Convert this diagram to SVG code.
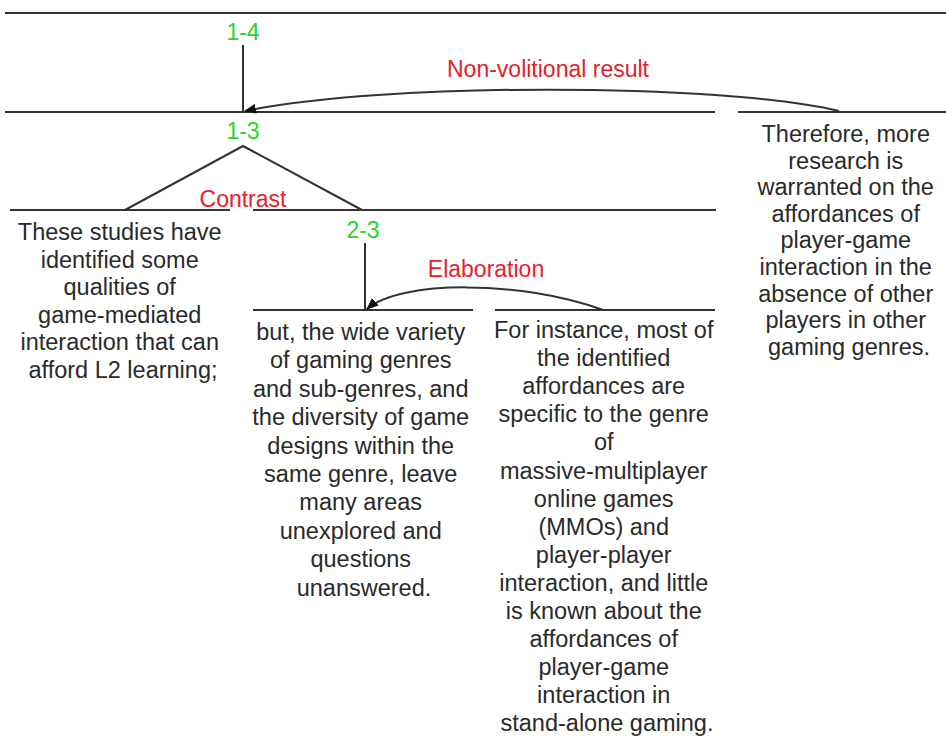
<svg xmlns="http://www.w3.org/2000/svg" width="946" height="742" viewBox="0 0 946 742">
  <defs>
    <style>
      .span { stroke: #333; stroke-width: 2; fill: none; }
      .rel { stroke: #333; stroke-width: 2; fill: none; }
      .lbl { font-family: "Liberation Sans", Arial, sans-serif; font-size: 23px; fill: #2bd42b; text-anchor: middle; }
      .relname { font-family: "Liberation Sans", Arial, sans-serif; font-size: 23px; fill: #e8202a; text-anchor: middle; }
      .edu { font-family: "Liberation Sans", Arial, sans-serif; font-size: 23.5px; fill: #2a2a2a; text-anchor: middle; }
    </style>
    <marker id="arrow" viewBox="0 0 12 10" refX="11" refY="5" markerWidth="12" markerHeight="10" markerUnits="userSpaceOnUse" orient="auto">
      <path d="M0,0 L12,5 L0,10 Z" fill="#111"/>
    </marker>
  </defs>

  <rect width="946" height="742" fill="#fff"/>

  <!-- span 1-4 -->
  <g id="span-1-4">
    <line class="span" x1="5" y1="13" x2="946" y2="13"/>
    <text class="lbl" x="243" y="40">1-4</text>
    <line class="span" x1="243" y1="45" x2="243" y2="112"/>
  </g>

  <!-- span 1-3 -->
  <g id="span-1-3">
    <line class="span" x1="5" y1="112" x2="715" y2="112"/>
    <text class="lbl" x="243" y="139">1-3</text>
  </g>

  <!-- span 2-3 -->
  <g id="span-2-3">
    <line class="span" x1="253" y1="210" x2="716" y2="210"/>
    <text class="lbl" x="363" y="238">2-3</text>
    <line class="span" x1="365" y1="243" x2="365" y2="310"/>
  </g>

  <!-- EDU 1 -->
  <g id="edu-1">
    <line class="span" x1="10" y1="210" x2="230" y2="210"/>
    <text class="edu" x="123">
      <tspan x="123" y="240">These studies have</tspan>
      <tspan x="123" y="267.6">identified some</tspan>
      <tspan x="123" y="295.2">qualities of</tspan>
      <tspan x="123" y="322.8">game-mediated</tspan>
      <tspan x="123" y="350.4">interaction that can</tspan>
      <tspan x="123" y="378">afford L2 learning;</tspan>
    </text>
  </g>

  <!-- EDU 2 -->
  <g id="edu-2">
    <line class="span" x1="253" y1="310" x2="473" y2="310"/>
    <text class="edu" x="364">
      <tspan x="364" y="340">but, the wide variety</tspan>
      <tspan x="364" y="368.4">of gaming genres</tspan>
      <tspan x="364" y="396.8">and sub-genres, and</tspan>
      <tspan x="364" y="425.2">the diversity of game</tspan>
      <tspan x="364" y="453.6">designs within the</tspan>
      <tspan x="364" y="482">same genre, leave</tspan>
      <tspan x="364" y="510.4">many areas</tspan>
      <tspan x="364" y="538.8">unexplored and</tspan>
      <tspan x="364" y="567.2">questions</tspan>
      <tspan x="364" y="595.6">unanswered.</tspan>
    </text>
  </g>

  <!-- EDU 3 -->
  <g id="edu-3">
    <line class="span" x1="495" y1="310" x2="715" y2="310"/>
    <text class="edu" x="607">
      <tspan x="607" y="338">For instance, most of</tspan>
      <tspan x="607" y="366.1">the identified</tspan>
      <tspan x="607" y="394.2">affordances are</tspan>
      <tspan x="607" y="422.3">specific to the genre</tspan>
      <tspan x="607" y="450.4">of</tspan>
      <tspan x="607" y="478.5">massive-multiplayer</tspan>
      <tspan x="607" y="506.6">online games</tspan>
      <tspan x="607" y="534.7">(MMOs) and</tspan>
      <tspan x="607" y="562.8">player-player</tspan>
      <tspan x="607" y="590.9">interaction, and little</tspan>
      <tspan x="607" y="619">is known about the</tspan>
      <tspan x="607" y="647.1">affordances of</tspan>
      <tspan x="607" y="675.2">player-game</tspan>
      <tspan x="607" y="703.3">interaction in</tspan>
      <tspan x="607" y="731.4">stand-alone gaming.</tspan>
    </text>
  </g>

  <!-- EDU 4 -->
  <g id="edu-4">
    <line class="span" x1="738" y1="112" x2="946" y2="112"/>
    <text class="edu" x="849">
      <tspan x="849" y="142">Therefore, more</tspan>
      <tspan x="849" y="168.6">research is</tspan>
      <tspan x="849" y="195.2">warranted on the</tspan>
      <tspan x="849" y="221.8">affordances of</tspan>
      <tspan x="849" y="248.4">player-game</tspan>
      <tspan x="849" y="275">interaction in the</tspan>
      <tspan x="849" y="301.6">absence of other</tspan>
      <tspan x="849" y="328.2">players in other</tspan>
      <tspan x="849" y="354.8">gaming genres.</tspan>
    </text>
  </g>

  <!-- relations -->
  <g id="connectors">
    <!-- Non-volitional result: 4 -> 1-3 -->
    <path class="rel" d="M839,111 C720,82.5 380,82.5 245,111" marker-end="url(#arrow)"/>
    <text class="relname" x="548" y="77">Non-volitional result</text>

    <!-- Contrast (multinuclear): 1 and 2-3 -->
    <polyline class="rel" points="125,210 243,146 362,210"/>
    <text class="relname" x="243" y="207">Contrast</text>

    <!-- Elaboration: 3 -> 2 -->
    <path class="rel" d="M603,310 C520,280 400,280 367,309" marker-end="url(#arrow)"/>
    <text class="relname" x="486" y="277">Elaboration</text>
  </g>
</svg>
